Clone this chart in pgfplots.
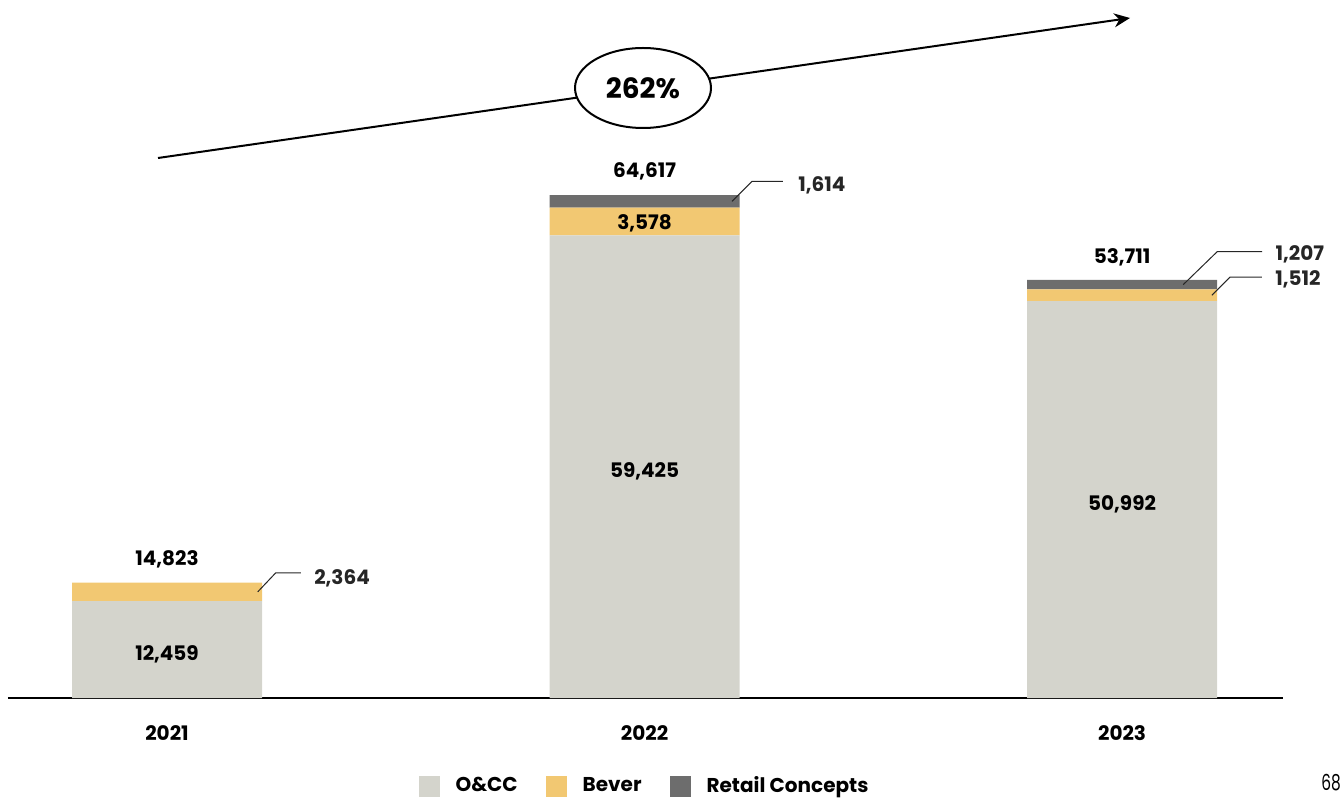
\documentclass[border=0pt]{standalone}
\usepackage{pgfplots}
\pgfplotsset{compat=1.18}
\usepackage{fontspec}
\usepackage{graphicx}
\setmainfont{Poppins}
\usetikzlibrary{arrows.meta}
\definecolor{occ}{HTML}{D4D4CC}
\definecolor{bever}{HTML}{F2C872}
\definecolor{retail}{HTML}{6D6D6D}
\tikzset{vl/.style={font=\bfseries\fontsize{10}{12}\selectfont},
  cl/.style={line width=0.5pt, black!85}}
\begin{document}
\begin{tikzpicture}
\begin{axis}[
  scale only axis, width=637.5pt, height=344pt,
  xmin=-0.333, xmax=2.337, ymin=0, ymax=88400,
  ybar stacked, bar width=95pt,
  axis x line=bottom, axis y line=none,
  x axis line style={-, line width=0.8pt},
  xtick={0,1,2}, xticklabels={2021,2022,2023},
  xtick style={draw=none},
  xticklabel style={font=\bfseries\fontsize{10}{12}\selectfont, yshift=-8pt},
  clip=false,
  legend style={at={(0.500,-0.128)}, anchor=center, draw=none, legend columns=-1,
    font=\bfseries\fontsize{10}{12}\selectfont,
    /tikz/every odd column/.append style={column sep=6pt},
    /tikz/every even column/.append style={column sep=12pt}},
  legend image code/.code={\fill[#1] (0pt,-5.25pt) rectangle (10.5pt,5.25pt);},
]
\addplot[fill=occ, draw=none] coordinates {(0,12459) (1,59425) (2,50992)};
\addplot[fill=bever, draw=none] coordinates {(0,2364) (1,3578) (2,1512)};
\addplot[fill=retail, draw=none] coordinates {(0,0) (1,1614) (2,1207)};
\legend{O\&CC, Bever, Retail Concepts}
\coordinate (o1) at (axis cs:0,6230);
\coordinate (o2) at (axis cs:1,29712);
\coordinate (o3) at (axis cs:2,25496);
\coordinate (b2) at (axis cs:1,61214);
\coordinate (t1) at (axis cs:0,14823);
\coordinate (t2) at (axis cs:1,64617);
\coordinate (t3) at (axis cs:2,53711);
\coordinate (c1) at (axis cs:0.19,13641);
\coordinate (c2) at (axis cs:1.183,63810);
\coordinate (c3) at (axis cs:2.128,53107);
\coordinate (c4) at (axis cs:2.188,51748);
\end{axis}
\node[vl, yshift=-2.5pt] at (o1) {12,459};
\node[vl, yshift=-2.5pt] at (o2) {59,425};
\node[vl, yshift=-2.5pt] at (o3) {50,992};
\node[vl, yshift=-1pt] at (b2) {3,578};
\node[vl, yshift=11.5pt] at (t1) {14,823};
\node[vl, yshift=12pt] at (t2) {64,617};
\node[vl, yshift=11.5pt] at (t3) {53,711};
\draw[cl] (c1) -- ++(9pt,9.5pt) -- ++(12.5pt,0pt) node[vl, right, inner sep=0pt, xshift=6.5pt, yshift=-2.5pt] {2,364};
\draw[cl] (c2) -- ++(10pt,10pt) -- ++(15.5pt,0pt) node[vl, right, inner sep=0pt, xshift=7.5pt, yshift=-2pt] {1,614};
\draw[cl] (c3) -- ++(17pt,16.5pt) -- ++(22.5pt,0pt) node[vl, right, inner sep=0pt, xshift=6.5pt, yshift=-1.5pt] {1,207};
\draw[cl] (c4) -- ++(9pt,9pt) -- ++(16pt,0pt) node[vl, right, inner sep=0pt, xshift=6.5pt, yshift=-1pt] {1,512};
\begin{scope}[shift={(current axis.south west)}, shift={(-4pt,349pt)}, x=0.5pt, y=-0.5pt]
\draw[line width=1pt, -{Stealth[length=8pt,width=7pt]}] (158,158) -- (1130,18);
\draw[line width=1pt, fill=white] (643,88) ellipse [x radius=34pt, y radius=20pt];
\node[font=\bfseries\fontsize{14}{16}\selectfont] at (643,88) {262\%};
\node[font=\fontsize{11}{13}\selectfont] at (1331,783) {\scalebox{0.7}[1]{68}};
\pgfresetboundingbox
\path[use as bounding box] (0,0) rectangle (1343,798);
\end{scope}
\end{tikzpicture}
\end{document}
